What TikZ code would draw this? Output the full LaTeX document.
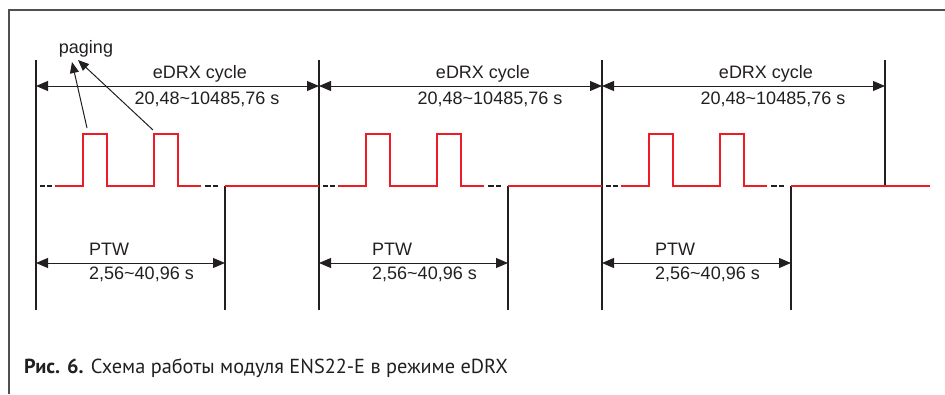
\documentclass[tikz,border=0pt]{standalone}
\usepackage{fontspec}
\setmainfont{Liberation Sans}
\newfontfamily\capfont{PT Sans}
\usetikzlibrary{arrows.meta}
\definecolor{sigred}{RGB}{237,28,36}
\definecolor{framegray}{RGB}{80,80,80}
\definecolor{ink}{RGB}{35,31,32}
\tikzset{
  frameline/.style={draw=framegray,line width=1.5pt},
  vline/.style={draw=ink,line width=1.1pt},
  dimarrow/.style={draw=ink,line width=1pt,{Triangle[length=12pt,width=10pt]}-{Triangle[length=12pt,width=10pt]}},
  pagearrow/.style={draw=ink,line width=1pt,-{Triangle[length=11pt,width=9pt]}},
  signal/.style={draw=sigred,line width=2.6pt,line join=miter},
  gapdash/.style={draw=ink,line width=2.6pt},
  lbl/.style={font=\fontsize{18}{20}\selectfont,text=ink,inner sep=0pt},
}
\begin{document}
\begin{tikzpicture}[x=1pt,y=-1pt]
\useasboundingbox (0,0) rectangle (945,394);
% frame
\coordinate (ftl) at (9,10);
\coordinate (ftr) at (945,10);
\coordinate (fbl) at (9,394);
\draw[frameline] (ftr) -- (ftl) -- (fbl);
% cycle verticals
\foreach \i/\X in {1/36,2/319,3/602}{
  \coordinate (vt\i) at (\X,60);
  \coordinate (vb\i) at (\X,310);
  \coordinate (pm\i) at (\X,263);
  \coordinate (ct\i) at (\X,86);
  \coordinate (pt\i) at (\X+189,186);
  \coordinate (pb\i) at (\X+189,310);
  \coordinate (pe\i) at (\X+189,263);
  \draw[vline] (vt\i) -- (vb\i);
  \draw[vline] (pt\i) -- (pb\i);
  \draw[dimarrow] (pm\i) -- (pe\i);
  \node[lbl,anchor=base] (ecl\i) at (\X+164,78) {eDRX cycle};
  \node[lbl,anchor=base] (ecv\i) at (\X+171,104) {20,48\char"007E 10485,76 s};
  \node[lbl,anchor=base west] (ptl\i) at (\X+53,255) {PTW};
  \node[lbl,anchor=base west] (ptv\i) at (\X+53,279) {2,56\char"007E 40,96 s};
  % signal
  \draw[gapdash] (\X+4,186) -- (\X+9,186) (\X+11,186) -- (\X+16,186);
  \draw[gapdash] (\X+169,186) -- (\X+175,186) (\X+177,186) -- (\X+182,186);
  \coordinate (s\i) at (\X+19,186);
  \coordinate (se\i) at (\X+165,186);
  \draw[signal] (s\i) -- (\X+47,186) -- (\X+47,134) -- (\X+71,134) -- (\X+71,186)
     -- (\X+118,186) -- (\X+118,134) -- (\X+142,134) -- (\X+142,186) -- (se\i);
}
\coordinate (vt4) at (885,60);
\coordinate (vb4) at (885,186);
\coordinate (ct4) at (885,86);
\draw[vline] (vt4) -- (vb4);
\foreach \i/\j in {1/2,2/3,3/4}{
  \draw[dimarrow] (ct\i) -- (ct\j);
}
\coordinate (rend) at (930,186);
\draw[signal] (pt1) -- (319,186);
\draw[signal] (pt2) -- (602,186);
\draw[signal] (pt3) -- (rend);
% paging
\node[lbl,anchor=base] (pg) at (86,53) {paging};
\coordinate (pa1) at (87,128);
\coordinate (pa2) at (153,130);
\coordinate (ph1) at (72,62);
\coordinate (ph2) at (78,60);
\draw[pagearrow] (pa1) -- (ph1);
\draw[pagearrow] (pa2) -- (ph2);
% caption
\node[anchor=base west,inner sep=0pt,text=ink,font=\capfont\fontsize{20.3}{24}\selectfont] (cap) at (24,373)
  {\textbf{Рис. 6.} Схема работы модуля ENS22-E в режиме eDRX};
\end{tikzpicture}
\end{document}
